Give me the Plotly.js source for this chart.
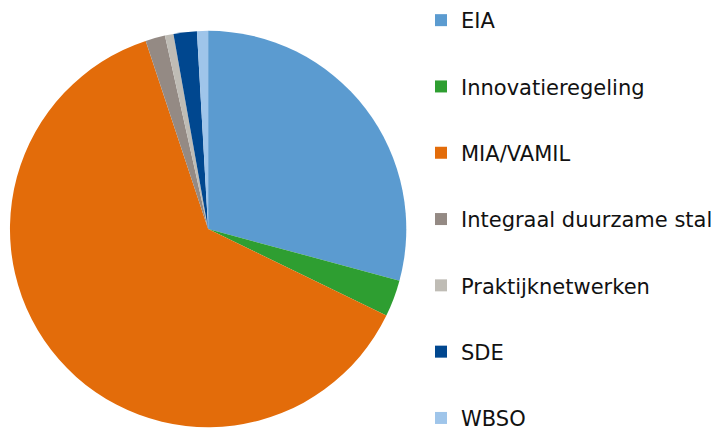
<!DOCTYPE html>
<html>
<head>
<meta charset="utf-8">
<script src="https://cdn.plot.ly/plotly-3.0.1.min.js"></script>
<style>html,body{margin:0;padding:0;background:#fff;}#chart{width:718px;height:430px;}</style>
</head>
<body>
<div id="chart"></div>
<script>
var categories = ["EIA", "Innovatieregeling", "MIA/VAMIL", "Integraal duurzame stal", "Praktijknetwerken", "SDE", "WBSO"];
var shares = [29.2, 3.0, 62.7, 1.6, 0.7, 1.9, 0.9];
var colors = ["#5b9bd0", "#2e9e31", "#e36c0a", "#948a84", "#bfbcb5", "#00478f", "#9fc5ea"];

var traces = [{
  type: "pie",
  labels: categories,
  values: shares,
  sort: false,
  direction: "clockwise",
  rotation: 0,
  textinfo: "none",
  hoverinfo: "label+percent",
  marker: {colors: colors, line: {width: 0}},
  showlegend: false,
  domain: {x: [10/718, 408/718], y: [2/430, 400/430]}
}];

categories.forEach(function (c, i) {
  traces.push({
    type: "scatter",
    mode: "markers",
    x: [null], y: [null],
    name: c,
    legendgroup: "g" + i,
    marker: {symbol: "square", size: 12, color: colors[i]},
    hoverinfo: "skip",
    xaxis: "x", yaxis: "y"
  });
});

var layout = {
  width: 718, height: 430,
  margin: {l: 0, r: 0, t: 0, b: 0},
  paper_bgcolor: "#fff", plot_bgcolor: "#fff",
  font: {family: "DejaVu Sans, Verdana, sans-serif", color: "#000"},
  xaxis: {visible: false, domain: [0.99, 1]},
  yaxis: {visible: false, domain: [0.99, 1]},
  showlegend: true,
  legend: {
    x: 423/718, xanchor: "left", y: 1.0, yanchor: "top",
    font: {size: 21, family: "DejaVu Sans, Verdana, sans-serif", color: "#111"},
    tracegroupgap: 36,
    maxheight: 2000,
    borderwidth: 0,
    bgcolor: "rgba(0,0,0,0)",
    itemclick: false, itemdoubleclick: false
  }
};

Plotly.newPlot("chart", traces, layout, {displayModeBar: false, staticPlot: true});
</script>
</body>
</html>
